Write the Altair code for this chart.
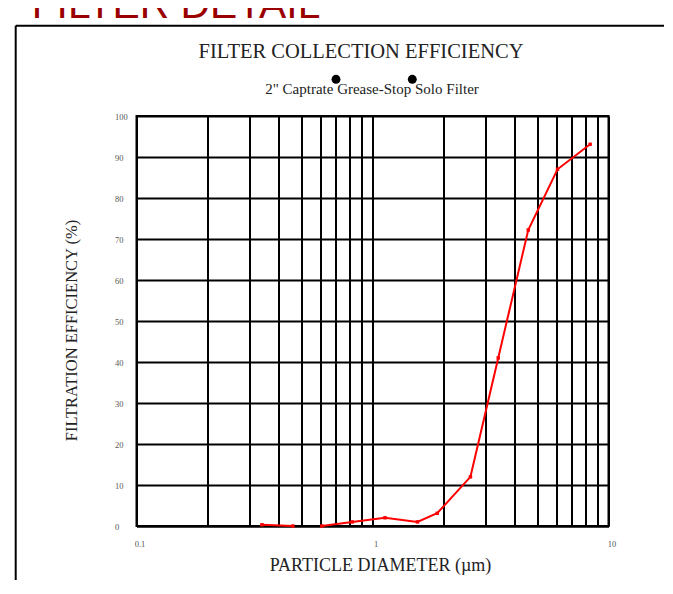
import altair as alt
import pandas as pd

# ---- data ----
diameter = [0.34, 0.46, 0.61, 0.82, 1.13, 1.55, 1.88, 2.6, 3.41, 4.57, 6.08, 8.36]
efficiency = [0.3, 0.0, 0.0, 1.0, 2.0, 1.0, 3.1, 12.0, 41.0, 72.2, 87.0, 93.1]
segment = [1, 1, 2, 2, 2, 2, 2, 2, 2, 2, 2, 2]

x_grid = [0.1, 0.2, 0.3, 0.4, 0.5, 0.6, 0.7, 0.8, 0.9,
          1, 2, 3, 4, 5, 6, 7, 8, 9, 10]
x_labels = [0.1, 1, 10]
y_ticks = [0, 10, 20, 30, 40, 50, 60, 70, 80, 90, 100]

header_text = "FILTER DETAIL"
title_text = "FILTER COLLECTION EFFICIENCY"
subtitle_text = '2" Captrate Grease-Stop Solo Filter'
x_title = "PARTICLE DIAMETER (µm)"
y_title = "FILTRATION EFFICIENCY (%)"

SERIF = "Liberation Serif"

df = pd.DataFrame({"d": diameter, "e": efficiency, "seg": segment})
one = pd.DataFrame({"a": [0]})
dots = pd.DataFrame({"a": [0, 1]})

label_expr = " || ".join(f"datum.value == {v}" for v in x_labels)

line = alt.Chart(df).mark_line(
    color="#ff0000", strokeWidth=2,
    point=alt.OverlayMarkDef(shape="square", size=12, filled=True, color="#ff0000"),
).encode(
    x=alt.X("d:Q",
            scale=alt.Scale(type="log", domain=[0.1, 10], nice=False),
            axis=alt.Axis(values=x_grid, labelExpr=f"({label_expr}) ? datum.label : ''",
                          format="~g", grid=True, gridColor="black", gridWidth=2,
                          gridOpacity=1, ticks=False, tickSize=0, domain=True,
                          domainColor="black", domainWidth=2, labelFont=SERIF,
                          labelFontSize=8.5, labelColor="#555", labelPadding=13,
                          labelOffset=3, labelFlush=False, labelOverlap=False,
                          title=x_title, titleFont=SERIF, titleFontSize=18,
                          titleFontWeight="normal", titleColor="#222",
                          titleX=243.5, titleY=44, titleBaseline="alphabetic",
                          titleAlign="center")),
    y=alt.Y("e:Q",
            scale=alt.Scale(domain=[0, 100], nice=False),
            axis=alt.Axis(values=y_ticks, grid=True, gridColor="black", gridWidth=2,
                          gridOpacity=1, ticks=False, tickSize=0, domain=True,
                          domainColor="black", domainWidth=2, labelFont=SERIF,
                          labelFontSize=8.5, labelColor="#555", labelPadding=22,
                          labelAlign="left", labelBaseline="middle", labelFlush=False,
                          title=y_title, titleFont=SERIF, titleFontSize=16.5,
                          titleFontWeight="normal", titleColor="#222",
                          titleX=-65, titleY=214, titleBaseline="middle",
                          titleAlign="center")),
    detail="seg:N",
)

header = alt.Chart(one).mark_text(
    text=header_text, font="Liberation Sans", fontSize=40.8, color="#9b0000",
    align="left", baseline="alphabetic",
).encode(x=alt.value(-104.8), y=alt.value(-97.7))

hline = alt.Chart(one).mark_rule(color="black", strokeWidth=2).encode(
    x=alt.value(-120.8), x2=alt.value(540), y=alt.value(-90.3))

vline = alt.Chart(one).mark_rule(color="black", strokeWidth=2).encode(
    x=alt.value(-120.8), y=alt.value(-90.3), y2=alt.value(470))

title = alt.Chart(one).mark_text(
    text=title_text, font=SERIF, fontSize=20.5, color="#222",
    align="center", baseline="alphabetic",
).encode(x=alt.value(224.5), y=alt.value(-57.7))

subtitle = alt.Chart(one).mark_text(
    text=subtitle_text, font=SERIF, fontSize=15, color="#222",
    align="center", baseline="alphabetic",
).encode(x=alt.value(235.5), y=alt.value(-21.7))

dot_layer = alt.Chart(dots).transform_calculate(
    px="datum.a == 0 ? 199.5 : 275.8"
).mark_point(shape="circle", filled=True, color="black", opacity=1, size=80).encode(
    x=alt.X("px:Q", scale=None), y=alt.value(-36.7))

chart = alt.layer(line, header, hline, vline, title, subtitle, dot_layer).properties(
    width=472, height=410,
    padding={"left": 128.5, "top": 108, "right": 55.5, "bottom": 54},
    autosize=alt.AutoSizeParams(type="none"),
).configure_view(stroke="black", strokeWidth=2)

chart.save("out.html", embed_options={"renderer": "svg", "actions": False})
